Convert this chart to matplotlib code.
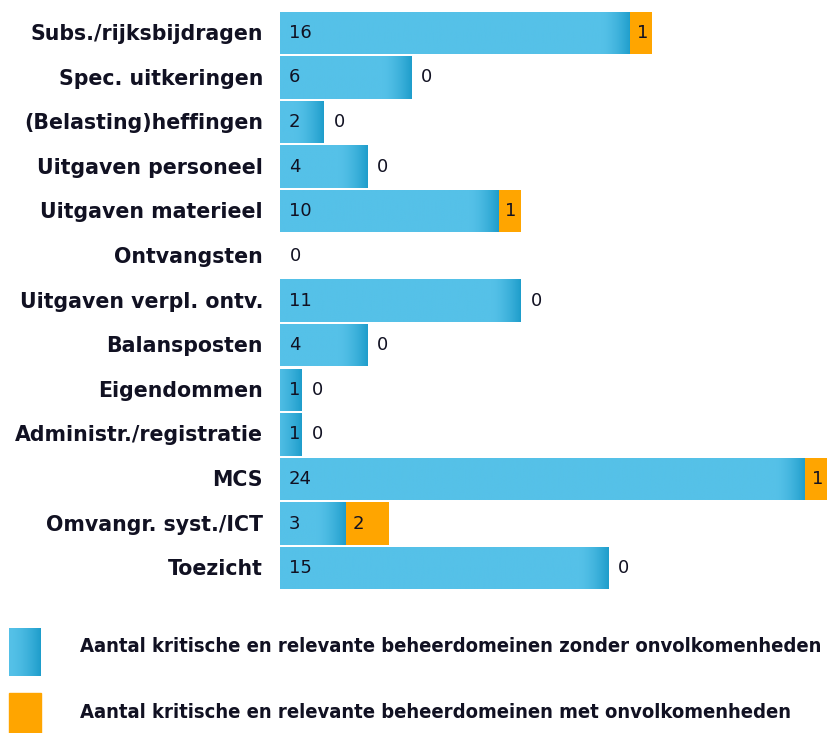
import numpy as np
import matplotlib
matplotlib.use("Agg")
import matplotlib.pyplot as plt
from matplotlib.colors import LinearSegmentedColormap
from matplotlib.patches import Rectangle

categories = ["Subs./rijksbijdragen", "Spec. uitkeringen", "(Belasting)heffingen",
              "Uitgaven personeel", "Uitgaven materieel", "Ontvangsten",
              "Uitgaven verpl. ontv.", "Balansposten", "Eigendommen",
              "Administr./registratie", "MCS", "Omvangr. syst./ICT", "Toezicht"]
zonder = [16, 6, 2, 4, 10, 0, 11, 4, 1, 1, 24, 3, 15]
met = [1, 0, 0, 0, 1, 0, 0, 0, 0, 0, 1, 2, 0]
legend_labels = ["Aantal kritische en relevante beheerdomeinen zonder onvolkomenheden",
                 "Aantal kritische en relevante beheerdomeinen met onvolkomenheden"]

BLUE = "#55C1E8"
BLUE_DARK = "#1E9DCB"
ORANGE = "#FFA500"
TXT = "#111122"

W, H = 834, 733
fig = plt.figure(figsize=(W / 100, H / 100), dpi=100)
ax = fig.add_axes([280 / W, 1 - 590.5 / H, (828 - 280) / W, (590.5 - 10.5) / H])
xmax = 25.05
n = len(categories)
ax.axis("off")

cmap = LinearSegmentedColormap.from_list("g", [BLUE, BLUE_DARK])
unit_px = (828 - 280) / xmax
gw = 30 / unit_px
bh = 0.95

for i, (cat, z, m) in enumerate(zip(categories, zonder, met)):
    if z > 0:
        bars = ax.barh(i, z, height=bh, color=BLUE, edgecolor="none")
        xs = np.linspace(0, z, 600)
        g = (np.clip((xs - (z - gw)) / gw, 0, 1) ** 1.6).reshape(1, -1)
        im = ax.imshow(g, cmap=cmap, vmin=0, vmax=1, aspect="auto",
                       interpolation="bilinear",
                       extent=(0, z, i + bh / 2, i - bh / 2), zorder=2)
        im.set_clip_path(bars[0])
        ax.text(0.4, i, str(z), va="center", ha="left", fontsize=13, color=TXT, zorder=3)
    if m > 0:
        ax.barh(i, m, left=z, height=bh, color=ORANGE, edgecolor="none", zorder=2)
        ax.text(z + 0.3, i, str(m), va="center", ha="left", fontsize=13, color=TXT, zorder=3)
    else:
        ax.text(z + 0.45, i, "0", va="center", ha="left", fontsize=13, color=TXT, zorder=3)
    fig.text(263 / W, 1 - (34 + i * 44.6) / H, cat, ha="right", va="center",
             fontsize=14.8, fontweight="bold", color=TXT)
ax.set_xlim(0, xmax)
ax.set_ylim(n - 0.5, -0.5)

# legend
ax2 = fig.add_axes([9 / W, 1 - 676 / H, 32 / W, 48 / H])
ax2.imshow((np.linspace(0, 1, 64) ** 1.6).reshape(1, -1), cmap=cmap, aspect="auto",
           interpolation="bilinear", extent=(0, 1, 0, 1))
ax2.axis("off")
fig.patches.append(Rectangle((9 / W, 1 - 735 / H), 32 / W, 42 / H,
                             transform=fig.transFigure, color=ORANGE))
fig.text(80 / W, 1 - 646 / H, legend_labels[0], ha="left", va="center",
         fontsize=14.5, fontweight="bold", color=TXT, fontstretch="condensed")
fig.text(80 / W, 1 - 713 / H, legend_labels[1], ha="left", va="center",
         fontsize=14.5, fontweight="bold", color=TXT, fontstretch="condensed")

fig.savefig("out.png", dpi=100, facecolor="white")
